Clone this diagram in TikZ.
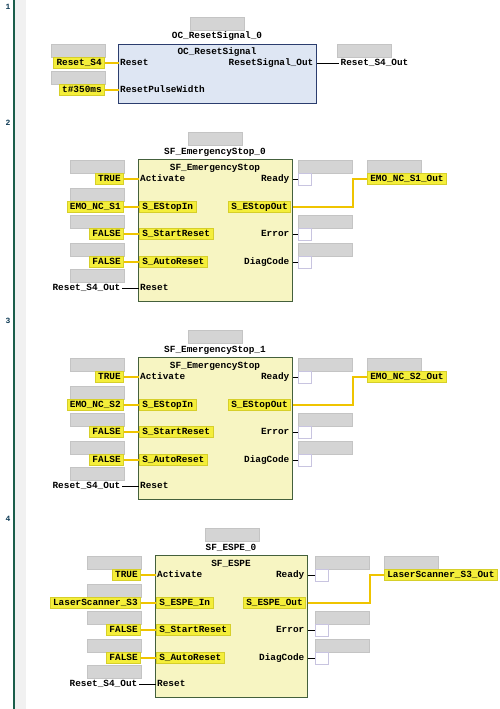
\documentclass[tikz,border=0pt]{standalone}
\usepackage{fontspec}
\setmonofont{Liberation Mono}
\usepackage{xcolor}
\usepackage{tikz}

\definecolor{railgreen}{HTML}{1B5E4B}
\definecolor{railgray}{HTML}{F1F1F1}
\definecolor{fbbluefill}{HTML}{DEE6F3}
\definecolor{fbblueline}{HTML}{2B3D6E}
\definecolor{fbyellowfill}{HTML}{F7F5C2}
\definecolor{fbgreenline}{HTML}{44603C}
\definecolor{varyellow}{HTML}{F4EE3A}
\definecolor{varedge}{HTML}{D6CF2A}
\definecolor{wireyellow}{HTML}{EFC400}
\definecolor{slotgray}{HTML}{D4D4D4}
\definecolor{slotedge}{HTML}{C4C4C4}
\definecolor{boxedge}{HTML}{C8C4E0}
\definecolor{numblue}{HTML}{0F3B55}

\tikzset{
    txt/.style={font=\ttfamily\bfseries\fontsize{9.4}{10}\selectfont, inner xsep=1.5pt, inner ysep=1pt, text height=6.5pt, text depth=2pt},
    var/.style={txt, fill=varyellow, draw=varedge, line width=0.6pt, inner xsep=3pt, inner ysep=1.5pt},
    slot/.style={fill=slotgray, draw=slotedge, line width=0.5pt, minimum width=54pt, minimum height=13pt, inner sep=0pt, anchor=north west},
    outbox/.style={fill=white, draw=boxedge, line width=0.6pt, minimum width=13pt, minimum height=12pt, inner sep=0pt, anchor=west},
    fbblue/.style={fill=fbbluefill, draw=fbblueline, line width=1.2pt, anchor=north west, inner sep=0pt},
    fbyellow/.style={fill=fbyellowfill, draw=fbgreenline, line width=1pt, anchor=north west, inner sep=0pt},
    yline/.style={draw=wireyellow, line width=1.8pt},
    bline/.style={draw=black, line width=0.9pt},
    numlbl/.style={font=\ttfamily\bfseries\fontsize{8}{9}\selectfont, text=numblue, inner sep=0pt}
}

\begin{document}
\begin{tikzpicture}[x=1pt,y=-1pt]
    \useasboundingbox (0,0) rectangle (500,709);
    % left rail
    \fill[railgray] (15,0) rectangle (26,709);
    \draw[railgreen, line width=2pt] (14,0) -- (14,709);

    % network 1: reset signal
    \node[numlbl] (num1) at (8,7) {1};
    \node[slot] (islot1) at (190,17) {};
    \node[txt] (inst1) at (217,36) {OC\_ResetSignal\_0};
    \node[fbblue, minimum width=198, minimum height=59] (fb1) at (118,44) {};
    \node[txt] (typ1) at (217,52) {OC\_ResetSignal};
    \node[txt, anchor=west] (pa1) at (118.5,63) {Reset};
    \node[txt, anchor=west] (pb1) at (118.5,90) {ResetPulseWidth};
    \node[txt, anchor=east] (qa1) at (315,63) {ResetSignal\_Out};
    \node[slot] (ls11) at (51,44) {};
    \node[slot] (ls12) at (51,71) {};
    \node[var, anchor=east] (va1) at (105,63) {Reset\_S4};
    \node[var, anchor=east] (vb1) at (105,90) {t\#350ms};
    \draw[yline] (va1) -- (pa1);
    \draw[yline] (vb1) -- (pb1);
    \node[slot] (vslot1) at (337,44) {};
    \node[txt, anchor=west] (vo1) at (339,63) {Reset\_S4\_Out};
    \draw[bline] (fb1.east |- qa1) -- (vo1);

    % networks 2-4: safety blocks
    \foreach \n/\dx/\dy/\w/\inst/\typ/\pin/\pout/\vin/\vout in {
        2/0/0/154/SF\_EmergencyStop\_0/SF\_EmergencyStop/S\_EStopIn/S\_EStopOut/EMO\_NC\_S1/EMO\_NC\_S1\_Out,
        3/0/198/154/SF\_EmergencyStop\_1/SF\_EmergencyStop/S\_EStopIn/S\_EStopOut/EMO\_NC\_S2/EMO\_NC\_S2\_Out,
        4/17/396/152/SF\_ESPE\_0/SF\_ESPE/S\_ESPE\_In/S\_ESPE\_Out/LaserScanner\_S3/LaserScanner\_S3\_Out} {
        \node[numlbl] (num\n) at (8,{122.5+\dy}) {\n};
        \begin{scope}[shift={(\dx,\dy)}]
            \node[slot] (islot\n) at (188,132) {};
            \node[txt] (inst\n) at ({138+\w/2},152) {\inst};
            \node[fbyellow, minimum width=\w, minimum height=142] (fb\n) at (138,159) {};
            \node[txt] (typ\n) at ({138+\w/2},168) {\typ};
            % inputs
            \node[txt, anchor=west] (pa\n) at (138.5,179) {Activate};
            \node[var, anchor=west] (pb\n) at (139,207) {\pin};
            \node[var, anchor=west] (pc\n) at (139,234) {S\_StartReset};
            \node[var, anchor=west] (pd\n) at (139,262) {S\_AutoReset};
            \node[txt, anchor=west] (pe\n) at (138.5,288) {Reset};
            \foreach \yy [count=\i] in {160,188,215,243,269}
                \node[slot] (ls\n\i) at (70,\yy) {};
            \node[var, anchor=east] (va\n) at (124,179) {TRUE};
            \node[var, anchor=east] (vb\n) at (124,207) {\vin};
            \node[var, anchor=east] (vc\n) at (124,234) {FALSE};
            \node[var, anchor=east] (vd\n) at (124,262) {FALSE};
            \node[txt, anchor=east] (ve\n) at (122,288) {Reset\_S4\_Out};
            \foreach \p in {a,b,c,d}
                \draw[yline] (v\p\n) -- (p\p\n);
            \draw[bline] (ve\n) -- (pe\n);
            % outputs
            \node[txt, anchor=east] (qa\n) at ({137+\w},179) {Ready};
            \node[var, anchor=east] (qb\n) at ({137+\w},207) {\pout};
            \node[txt, anchor=east] (qc\n) at ({137+\w},234) {Error};
            \node[txt, anchor=east] (qd\n) at ({137+\w},262) {DiagCode};
            \foreach \p/\yy in {a/179,c/234,d/262} {
                \node[slot] (rs\p\n) at (298,{\yy-19}) {};
                \node[outbox] (ob\p\n) at (298,\yy) {};
                \draw[bline] (fb\n.east |- ob\p\n) -- (ob\p\n);
            }
            \node[slot] (vslot\n) at (367,160) {};
            \node[var, anchor=west] (vo\n) at (367,179) {\vout};
            \coordinate (bend\n) at (353,0);
            \draw[yline] (fb\n.east |- qb\n) -- (bend\n |- qb\n) -- (bend\n |- vo\n) -- (vo\n);
        \end{scope}
    }
\end{tikzpicture}
\end{document}
